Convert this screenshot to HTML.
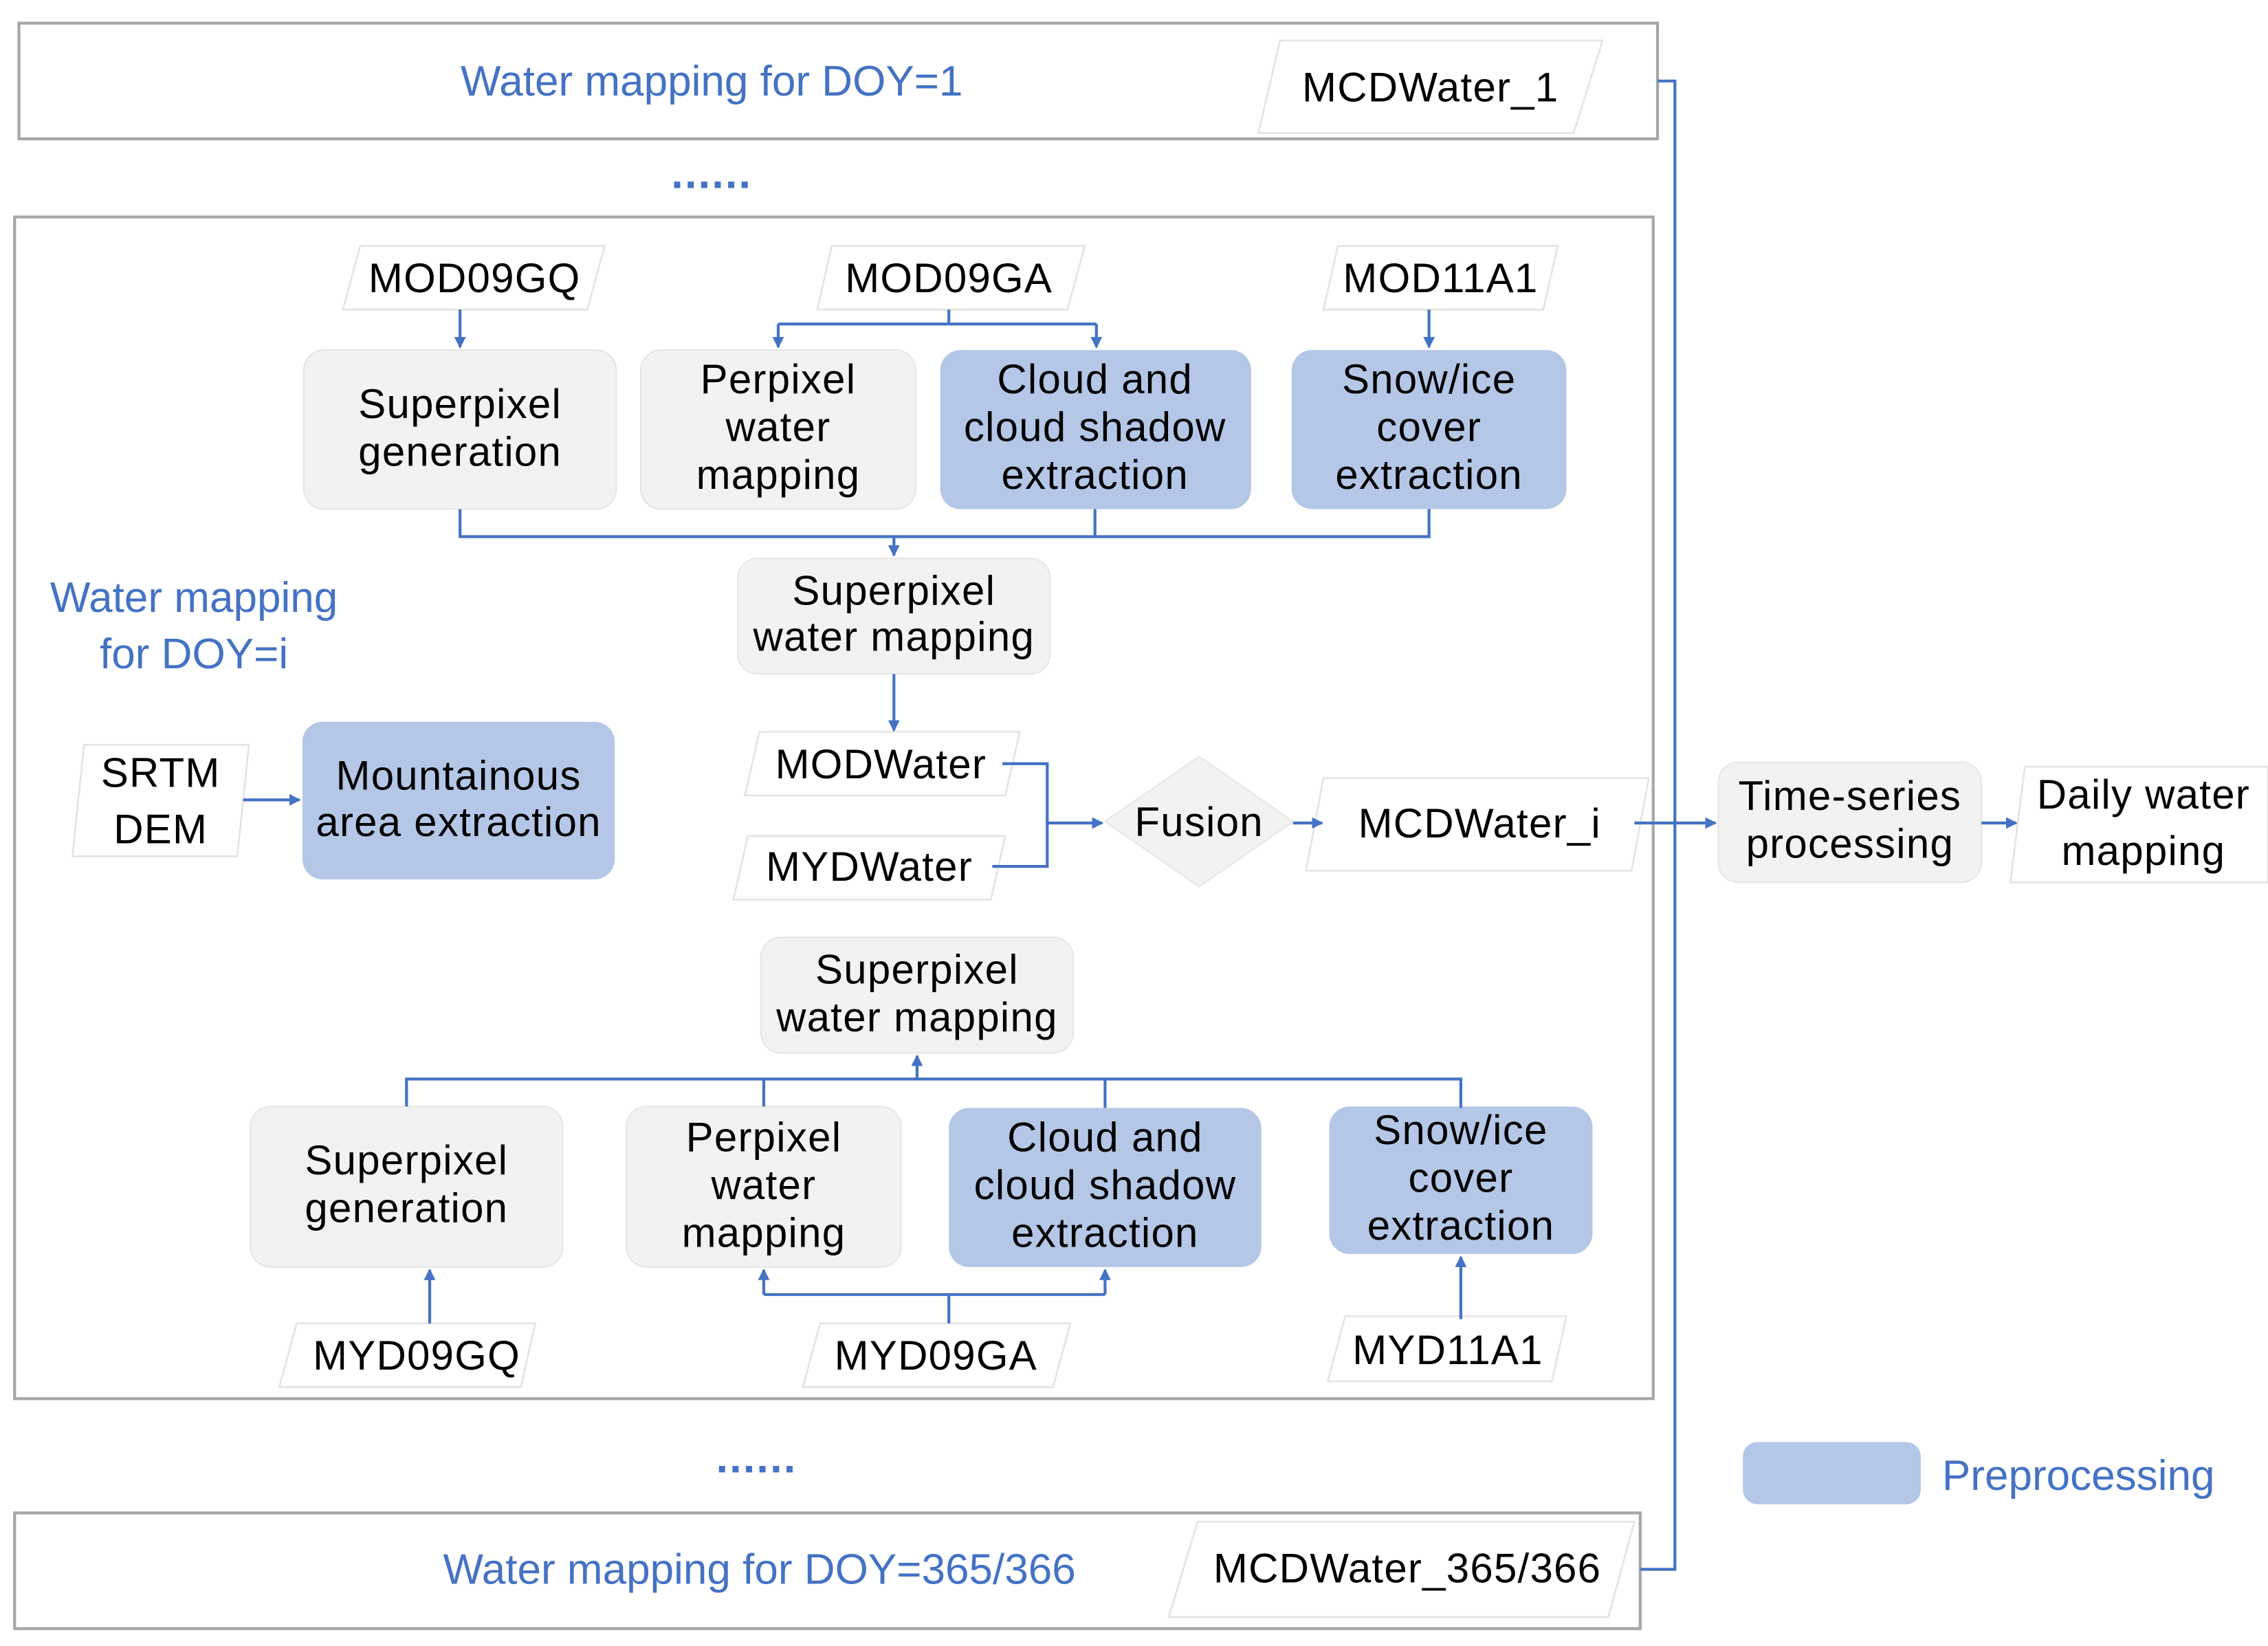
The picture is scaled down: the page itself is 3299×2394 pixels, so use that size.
<!DOCTYPE html>
<html><head><meta charset="utf-8"><style>
html,body{margin:0;padding:0;background:#fff;}
svg{display:block;}
text{font-family:"Liberation Sans",sans-serif;}
</style></head><body>
<svg width="3299" height="2394" viewBox="0 0 1568 1138" xmlns="http://www.w3.org/2000/svg">
<defs>
<marker id="a" markerWidth="8" markerHeight="8" refX="7" refY="4" orient="auto" markerUnits="userSpaceOnUse">
<path d="M0,0 L8,4 L0,8 z" fill="#4472c4"/></marker>
</defs>
<rect width="1568" height="1138" fill="#fff"/>
<g fill="none" stroke="#a6a6a6" stroke-width="2">
<rect x="13" y="16" width="1133" height="80"/>
<rect x="10" y="150" width="1133" height="817"/>
<rect x="10" y="1046" width="1124" height="80"/>
</g>
<g fill="#fff" stroke="#e3e3e3" stroke-width="1.2">
<polygon points="885,28 1108,28 1088,92 870,92"/>
<polygon points="828,1052 1130,1052 1112,1118 808,1118"/>
<polygon points="249,170 418,170 406,214 237,214"/>
<polygon points="575,170 750,170 738,214 565,214"/>
<polygon points="925,170 1077,170 1067,214 915,214"/>
<polygon points="58,515 172,515 164,592 50,592"/>
<polygon points="525,506 705,506 695,550 515,550"/>
<polygon points="517,578 695,578 685,622 507,622"/>
<polygon points="915,538 1140,538 1128,602 903,602"/>
<polygon points="1400,530 1568,530 1568,610 1390,610"/>
<polygon points="205,915 370,915 360,959 193,959"/>
<polygon points="567,915 740,915 728,959 555,959"/>
<polygon points="930,910 1083,910 1073,955 918,955"/>
</g>
<g fill="#f2f2f2" stroke="#e6e6e6" stroke-width="1">
<rect x="210" y="242" width="216" height="110" rx="14"/>
<rect x="443" y="242" width="190" height="110" rx="14"/>
<rect x="510" y="386" width="216" height="80" rx="14"/>
<rect x="526" y="648" width="216" height="80" rx="14"/>
<rect x="173" y="765" width="216" height="111" rx="14"/>
<rect x="433" y="765" width="190" height="111" rx="14"/>
<rect x="1188" y="527" width="182" height="83" rx="14"/>
<polygon points="829,523 894,568 829,613 764,568"/>
</g>
<g fill="#b4c7e7">
<rect x="650" y="242" width="215" height="110" rx="14"/>
<rect x="893" y="242" width="190" height="110" rx="14"/>
<rect x="209" y="499" width="216" height="109" rx="14"/>
<rect x="656" y="766" width="216" height="110" rx="14"/>
<rect x="919" y="765" width="182" height="102" rx="14"/>
<rect x="1205" y="997" width="123" height="43" rx="10"/>
</g>
<g fill="none" stroke="#4472c4" stroke-width="2">
<path d="M1146,56 H1158 V1085 H1134"/>
<path d="M318,214 V240" marker-end="url(#a)"/>
<path d="M656,214 V224 M538,224 H758"/>
<path d="M538,224 V240" marker-end="url(#a)"/>
<path d="M758,224 V240" marker-end="url(#a)"/>
<path d="M988,214 V240" marker-end="url(#a)"/>
<path d="M318,352 V371 H988 V352 M757,352 V371"/>
<path d="M618,371 V384" marker-end="url(#a)"/>
<path d="M618,466 V505" marker-end="url(#a)"/>
<path d="M168,553 H207" marker-end="url(#a)"/>
<path d="M693,528 H724 V599 H686"/>
<path d="M724,569 H762" marker-end="url(#a)"/>
<path d="M894,569 H914" marker-end="url(#a)"/>
<path d="M1130,569 H1186" marker-end="url(#a)"/>
<path d="M1370,569 H1394" marker-end="url(#a)"/>
<path d="M281,765 V746 H1010 V766 M528,746 V765 M764,746 V766"/>
<path d="M634,746 V730" marker-end="url(#a)"/>
<path d="M297,915 V878" marker-end="url(#a)"/>
<path d="M656,915 V895 M528,895 H764"/>
<path d="M528,895 V878" marker-end="url(#a)"/>
<path d="M764,895 V878" marker-end="url(#a)"/>
<path d="M1010,912 V869" marker-end="url(#a)"/>
</g>
<g fill="#4472c4" font-size="29.5" text-anchor="middle">
<text x="492" y="66">Water mapping for DOY=1</text>
<text x="525" y="1095">Water mapping for DOY=365/366</text>
<text x="134" y="423">Water mapping</text>
<text x="134" y="462">for DOY=i</text>
<text x="1437" y="1030">Preprocessing</text>
<text x="492" y="130" font-weight="bold" font-size="30" letter-spacing="1">......</text>
<text x="523" y="1018" font-weight="bold" font-size="30" letter-spacing="1">......</text>
</g>
<g fill="#000" font-size="28.5" text-anchor="middle" letter-spacing="0.6">
<text x="989" y="70">MCDWater_1</text>
<text x="973" y="1094">MCDWater_365/366</text>
<text x="328" y="202">MOD09GQ</text>
<text x="656" y="202">MOD09GA</text>
<text x="996" y="202">MOD11A1</text>
<text x="318" y="289">Superpixel</text><text x="318" y="322">generation</text>
<text x="538" y="272">Perpixel</text><text x="538" y="305">water</text><text x="538" y="338">mapping</text>
<text x="757" y="272">Cloud and</text><text x="757" y="305">cloud shadow</text><text x="757" y="338">extraction</text>
<text x="988" y="272">Snow/ice</text><text x="988" y="305">cover</text><text x="988" y="338">extraction</text>
<text x="618" y="418">Superpixel</text><text x="618" y="450">water mapping</text>
<text x="111" y="544">SRTM</text><text x="111" y="583">DEM</text>
<text x="317" y="546">Mountainous</text><text x="317" y="578">area extraction</text>
<text x="609" y="538">MODWater</text>
<text x="601" y="609">MYDWater</text>
<text x="829" y="578">Fusion</text>
<text x="1023" y="579">MCDWater_i</text>
<text x="1279" y="560">Time-series</text><text x="1279" y="593">processing</text>
<text x="1482" y="559">Daily water</text><text x="1482" y="598">mapping</text>
<text x="634" y="680">Superpixel</text><text x="634" y="713">water mapping</text>
<text x="281" y="812">Superpixel</text><text x="281" y="845">generation</text>
<text x="528" y="796">Perpixel</text><text x="528" y="829">water</text><text x="528" y="862">mapping</text>
<text x="764" y="796">Cloud and</text><text x="764" y="829">cloud shadow</text><text x="764" y="862">extraction</text>
<text x="1010" y="791">Snow/ice</text><text x="1010" y="824">cover</text><text x="1010" y="857">extraction</text>
<text x="288" y="947">MYD09GQ</text>
<text x="647" y="947">MYD09GA</text>
<text x="1001" y="943">MYD11A1</text>
</g>
</svg>
</body></html>
